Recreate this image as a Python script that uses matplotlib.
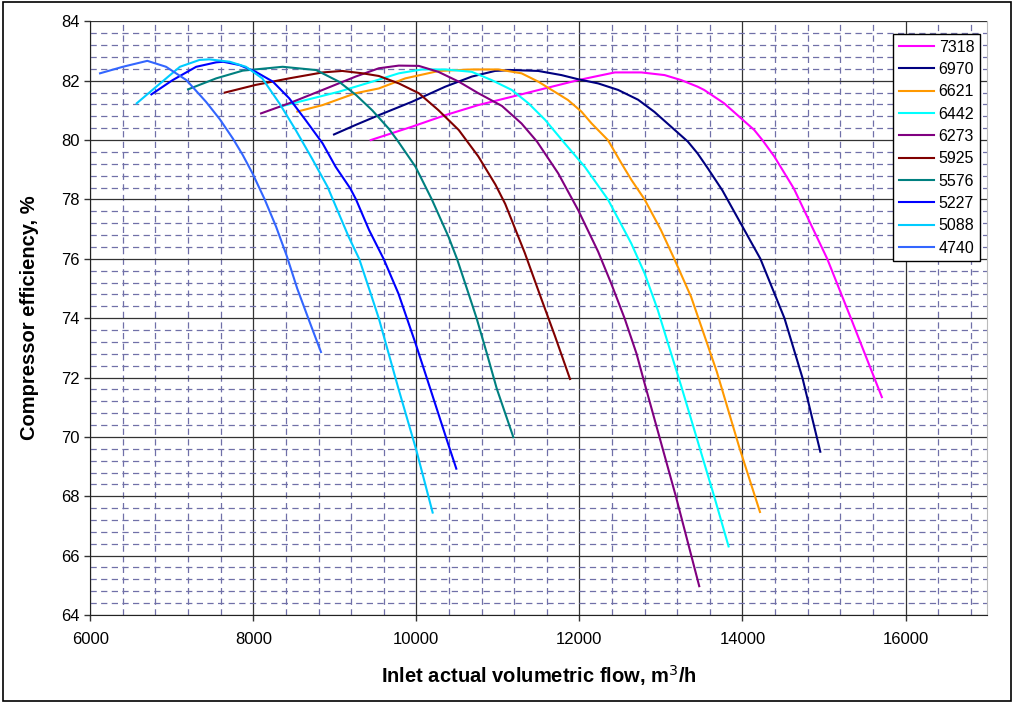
import matplotlib
matplotlib.use("Agg")
import matplotlib.pyplot as plt
from matplotlib.ticker import MultipleLocator
from matplotlib.patches import Rectangle

plt.rcParams['font.family'] = ['Liberation Sans', 'DejaVu Sans']

# compressor efficiency vs inlet flow, one curve per speed (rpm)
speeds = ['7318', '6970', '6621', '6442', '6273', '5925', '5576', '5227', '5088', '4740']
colors = ['#FF00FF', '#000080', '#FF9900', '#00FFFF', '#800080',
          '#800000', '#008080', '#0000FF', '#00CCFF', '#3366FF']

flow_7318 = [9440, 9540, 9945, 10355, 10760, 11170, 11575, 11985, 12190, 12435, 12760,
             13045, 13250, 13450, 13530, 13775, 13960, 14145, 14245, 14390, 14630,
             15040, 15330, 15710]
eff_7318 = [80.0, 80.09, 80.45, 80.84, 81.18, 81.46, 81.74, 82.02, 82.14, 82.28, 82.28,
            82.19, 82.02, 81.8, 81.69, 81.24, 80.79, 80.34, 80.0, 79.45, 78.37,
            76.0, 74.0, 71.34]

flow_6970 = [8990, 9255, 9540, 9945, 10355, 10680, 10965, 11170, 11495, 11780, 11985,
             12230, 12475, 12720, 12920, 13125, 13330, 13450, 13575, 13755, 14220,
             14515, 14735, 14955]
eff_6970 = [80.19, 80.51, 80.84, 81.29, 81.8, 82.14, 82.33, 82.36, 82.33, 82.19, 82.05,
            81.91, 81.69, 81.36, 80.95, 80.45, 79.95, 79.55, 79.05, 78.3, 76.0,
            74.0, 72.0, 69.5]

flow_6621 = [8540, 8850, 9255, 9540, 9865, 10275, 10680, 11005, 11290, 11495, 11660,
             11860, 12025, 12150, 12350, 12515, 12640, 12800, 13000, 13165, 13370,
             13510, 13685, 13960, 14215]
eff_6621 = [80.96, 81.18, 81.58, 81.74, 82.08, 82.33, 82.38, 82.38, 82.25, 81.97, 81.69,
            81.35, 80.96, 80.56, 80.0, 79.22, 78.65, 78.0, 76.97, 75.99, 74.72,
            73.6, 72.2, 69.66, 67.47]

flow_6442 = [8320, 8645, 9050, 9460, 9785, 10070, 10355, 10680, 10925, 11170, 11375,
             11580, 11820, 12066, 12350, 12636, 12800, 12962, 13125, 13250, 13655, 13830]
eff_6442 = [81.12, 81.35, 81.63, 81.97, 82.25, 82.38, 82.38, 82.3, 82.02, 81.69, 81.24,
            80.68, 79.89, 79.1, 78.0, 76.52, 75.51, 74.27, 72.81, 71.7, 67.98, 66.31]

flow_6273 = [8095, 8440, 8850, 9255, 9540, 9785, 10030, 10270, 10520, 10760, 11050,
             11290, 11480, 11740, 11985, 12230, 12390, 12555, 12700, 12800, 13185, 13470]
eff_6273 = [80.9, 81.24, 81.69, 82.14, 82.42, 82.51, 82.5, 82.3, 81.97, 81.58, 81.15,
            80.56, 79.95, 78.88, 77.64, 76.24, 75.17, 73.99, 72.81, 71.8, 67.98, 64.97]

flow_5925 = [7650, 8030, 8440, 8850, 9090, 9340, 9540, 9785, 10030, 10270, 10520,
             10760, 10970, 11090, 11330, 11540, 11700, 11885]
eff_5925 = [81.6, 81.86, 82.08, 82.28, 82.33, 82.25, 82.16, 81.91, 81.58, 81.01, 80.34,
            79.45, 78.5, 77.85, 76.2, 74.6, 73.4, 71.95]

flow_5576 = [7200, 7545, 7870, 8360, 8770, 9050, 9260, 9460, 9660, 9765, 9990,
             10190, 10395, 10500, 10640, 10740, 10865, 10986, 11190]
eff_5576 = [81.71, 82.08, 82.34, 82.47, 82.36, 81.97, 81.52, 81.0, 80.39, 80.0, 79.1,
            78.0, 76.74, 75.99, 74.83, 73.99, 72.81, 71.63, 69.99]

flow_5227 = [6750, 7010, 7300, 7545, 7630, 7830, 8030, 8240, 8440, 8640, 8850,
             9010, 9190, 9260, 9420, 9600, 9780, 9990, 10170, 10375, 10490]
eff_5227 = [81.54, 82.02, 82.47, 82.62, 82.64, 82.53, 82.3, 81.97, 81.41, 80.68, 79.89,
            79.1, 78.37, 78.0, 76.97, 75.99, 74.83, 73.15, 71.63, 69.89, 68.93]

flow_5088 = [6570, 6810, 7100, 7340, 7460, 7710, 7910, 8110, 8320, 8520, 8720,
             8910, 9170, 9300, 9440, 9540, 9660, 9780, 10000, 10200]
eff_5088 = [81.24, 81.8, 82.47, 82.7, 82.72, 82.64, 82.47, 82.08, 81.24, 80.34, 79.38,
            78.43, 76.74, 75.99, 74.83, 73.99, 72.81, 71.63, 69.55, 67.45]

flow_4740 = [6120, 6400, 6700, 6930, 7180, 7420, 7590, 7750, 7870, 7990, 8140,
             8280, 8410, 8540, 8690, 8830]
eff_4740 = [82.25, 82.47, 82.67, 82.47, 82.02, 81.29, 80.7, 80.05, 79.5, 78.88, 78.0,
            77.08, 76.1, 74.99, 73.88, 72.86]

flows = [flow_7318, flow_6970, flow_6621, flow_6442, flow_6273,
         flow_5925, flow_5576, flow_5227, flow_5088, flow_4740]
effs = [eff_7318, eff_6970, eff_6621, eff_6442, eff_6273,
        eff_5925, eff_5576, eff_5227, eff_5088, eff_4740]

fig = plt.figure(figsize=(10.14, 7.03), dpi=100)
ax = fig.add_axes([0.089, 0.1252, 0.8844, 0.8444])

for label, c, xs, ys in zip(speeds, colors, flows, effs):
    ax.plot(xs, ys, color=c, lw=1.5, label=label, solid_joinstyle='round')

ax.set_xlim(6000, 17000)
ax.set_ylim(64, 84)
ax.xaxis.set_major_locator(MultipleLocator(2000))
ax.yaxis.set_major_locator(MultipleLocator(2))
ax.xaxis.set_minor_locator(MultipleLocator(400))
ax.yaxis.set_minor_locator(MultipleLocator(0.4))

ax.set_axisbelow(True)
ax.grid(which='major', color='#333333', lw=0.9)
ax.grid(which='minor', color='#7070A8', lw=0.9, linestyle=(0, (5, 3.5)))

ax.tick_params(which='major', direction='out', length=4, width=1, color='#333333',
               labelsize=12)
ax.tick_params(axis='x', which='major', pad=8)
ax.tick_params(which='minor', length=0)

for side in ('left', 'bottom'):
    ax.spines[side].set_color('#222222')
ax.spines['top'].set_visible(False)
ax.spines['right'].set_color('#BBBBBB')

ax.set_xlabel('Inlet actual volumetric flow, m$^3$/h', fontsize=14.5,
              fontweight='bold', labelpad=12)
ax.set_ylabel('Compressor efficiency, %', fontsize=14.5, fontweight='bold', labelpad=16)

leg = ax.legend(loc='upper right', bbox_to_anchor=(0.9922, 0.9788), fontsize=11.5,
                frameon=True, fancybox=False, shadow=False, framealpha=1,
                edgecolor='black', handlelength=2.2, handletextpad=0.3,
                labelspacing=0.46, borderpad=0.35, borderaxespad=0)
leg.get_frame().set_linewidth(1)

fig.patches.append(Rectangle((0.003, 0.003), 0.994, 0.994, transform=fig.transFigure,
                             fill=False, edgecolor='black', lw=1.2))

fig.savefig('out.png', dpi=100)
